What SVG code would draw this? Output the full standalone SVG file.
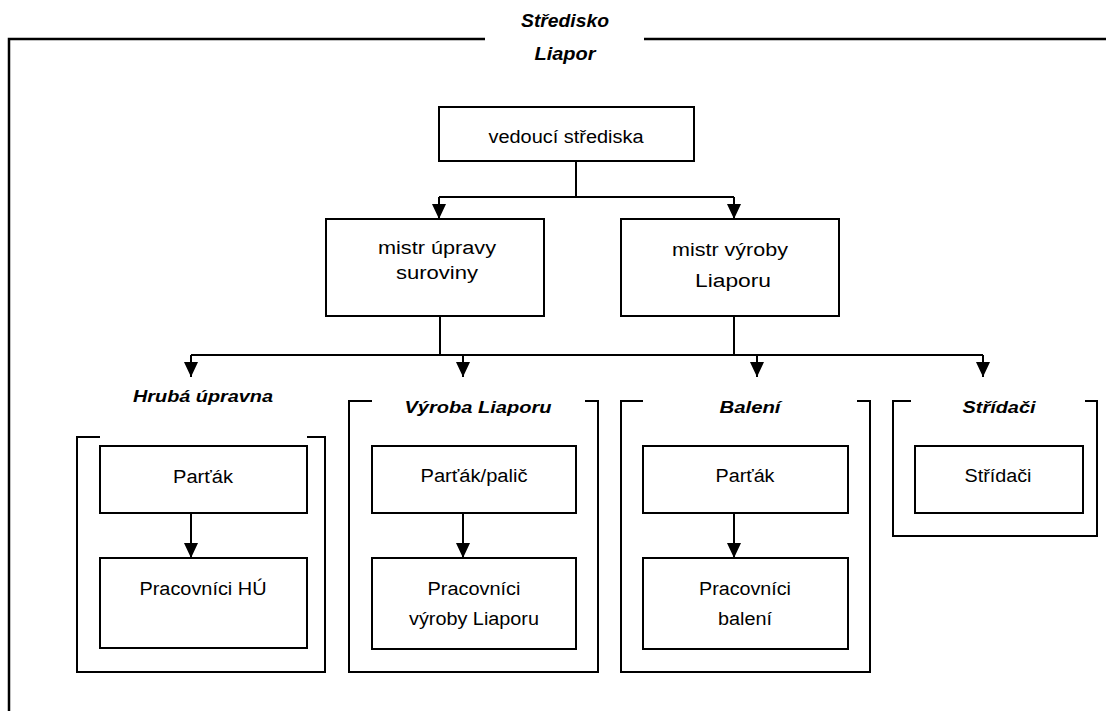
<svg xmlns="http://www.w3.org/2000/svg" width="1106" height="711" viewBox="0 0 1106 711">
<style>
  .bg { fill: #ffffff; }
  .box { fill: #ffffff; stroke: #000000; stroke-width: 2; }
  .frame { fill: none; stroke: #000000; stroke-width: 2; }
  .outer { fill: none; stroke: #000000; stroke-width: 2.5; }
  .conn { fill: none; stroke: #000000; stroke-width: 2; }
  .t { font-family: "Liberation Sans", Arial, sans-serif; font-size: 18px; fill: #000000; text-anchor: middle; }
  .h { font-family: "Liberation Sans", Arial, sans-serif; font-size: 16px; font-weight: bold; font-style: italic; fill: #000000; text-anchor: middle; }
  .title { font-family: "Liberation Sans", Arial, sans-serif; font-size: 18px; font-weight: bold; font-style: italic; fill: #000000; text-anchor: middle; }
</style>
<defs>
  <marker id="arrow" markerUnits="userSpaceOnUse" markerWidth="16" markerHeight="16" viewBox="0 0 16 16" refX="15" refY="8" orient="auto">
    <path d="M0,1 L15,8 L0,15 Z" fill="#000000"/>
  </marker>
</defs>
<rect class="bg" x="0" y="0" width="1106" height="711"/>

<g id="outer-frame">
  <path class="outer" d="M485,39 H9 V711"/>
  <path class="outer" d="M644,39 H1106"/>
  <text class="title" x="565" y="27" textLength="88" lengthAdjust="spacingAndGlyphs">Středisko</text>
  <text class="title" x="565" y="60" textLength="61" lengthAdjust="spacingAndGlyphs">Liapor</text>
</g>

<g id="connectors">
  <path class="conn" d="M576,161 V197"/>
  <path class="conn" d="M439,197 H734"/>
  <path class="conn" d="M439,197 V219" marker-end="url(#arrow)"/>
  <path class="conn" d="M734,197 V219" marker-end="url(#arrow)"/>
  <path class="conn" d="M440,316 V355"/>
  <path class="conn" d="M734,316 V355"/>
  <path class="conn" d="M191,355 H983"/>
  <path class="conn" d="M191,355 V377" marker-end="url(#arrow)"/>
  <path class="conn" d="M463,355 V377" marker-end="url(#arrow)"/>
  <path class="conn" d="M757,355 V377" marker-end="url(#arrow)"/>
  <path class="conn" d="M983,355 V377" marker-end="url(#arrow)"/>
  <path class="conn" d="M191,513 V558" marker-end="url(#arrow)"/>
  <path class="conn" d="M463,513 V558" marker-end="url(#arrow)"/>
  <path class="conn" d="M734,513 V558" marker-end="url(#arrow)"/>
</g>

<g id="vedouci">
  <rect class="box" x="439" y="107" width="255" height="54"/>
  <text class="t" x="566" y="143" textLength="155" lengthAdjust="spacingAndGlyphs">vedoucí střediska</text>
</g>

<g id="mistr-upravy">
  <rect class="box" x="326" y="219" width="218" height="97"/>
  <text class="t" x="437" y="254" textLength="118" lengthAdjust="spacingAndGlyphs">mistr úpravy</text>
  <text class="t" x="437" y="279" textLength="82" lengthAdjust="spacingAndGlyphs">suroviny</text>
</g>

<g id="mistr-vyroby">
  <rect class="box" x="621" y="219" width="218" height="97"/>
  <text class="t" x="730" y="256" textLength="116" lengthAdjust="spacingAndGlyphs">mistr výroby</text>
  <text class="t" x="733" y="287" textLength="76" lengthAdjust="spacingAndGlyphs">Liaporu</text>
</g>

<g id="hruba-upravna">
  <path class="frame" d="M100,437 H77 V672 H325 V437 H307"/>
  <text class="h" x="203" y="402" textLength="140" lengthAdjust="spacingAndGlyphs">Hrubá úpravna</text>
</g>
<g id="hu-partak">
  <rect class="box" x="100" y="446" width="207" height="67"/>
  <text class="t" x="203" y="483" textLength="60" lengthAdjust="spacingAndGlyphs">Parťák</text>
</g>
<g id="hu-pracovnici">
  <rect class="box" x="100" y="558" width="207" height="90"/>
  <text class="t" x="203" y="595" textLength="127" lengthAdjust="spacingAndGlyphs">Pracovníci HÚ</text>
</g>

<g id="vyroba-liaporu">
  <path class="frame" d="M372,401 H349 V672 H598 V401 H585"/>
  <text class="h" x="478" y="413" textLength="147" lengthAdjust="spacingAndGlyphs">Výroba Liaporu</text>
</g>
<g id="vl-partak">
  <rect class="box" x="372" y="446" width="204" height="67"/>
  <text class="t" x="474" y="482" textLength="107" lengthAdjust="spacingAndGlyphs">Parťák/palič</text>
</g>
<g id="vl-pracovnici">
  <rect class="box" x="372" y="558" width="204" height="91"/>
  <text class="t" x="474" y="595" textLength="93" lengthAdjust="spacingAndGlyphs">Pracovníci</text>
  <text class="t" x="474" y="625" textLength="130" lengthAdjust="spacingAndGlyphs">výroby Liaporu</text>
</g>

<g id="baleni">
  <path class="frame" d="M643,401 H621 V672 H870 V401 H857"/>
  <text class="h" x="750" y="413" textLength="61" lengthAdjust="spacingAndGlyphs">Balení</text>
</g>
<g id="b-partak">
  <rect class="box" x="643" y="446" width="205" height="67"/>
  <text class="t" x="745" y="482" textLength="59" lengthAdjust="spacingAndGlyphs">Parťák</text>
</g>
<g id="b-pracovnici">
  <rect class="box" x="643" y="558" width="205" height="91"/>
  <text class="t" x="745" y="595" textLength="92" lengthAdjust="spacingAndGlyphs">Pracovníci</text>
  <text class="t" x="745" y="625" textLength="54" lengthAdjust="spacingAndGlyphs">balení</text>
</g>

<g id="stridaci">
  <path class="frame" d="M911,401 H893 V536 H1097 V401 H1085"/>
  <text class="h" x="999" y="413" textLength="73" lengthAdjust="spacingAndGlyphs">Střídači</text>
</g>
<g id="s-stridaci">
  <rect class="box" x="915" y="446" width="168" height="67"/>
  <text class="t" x="998" y="482" textLength="67" lengthAdjust="spacingAndGlyphs">Střídači</text>
</g>
</svg>
